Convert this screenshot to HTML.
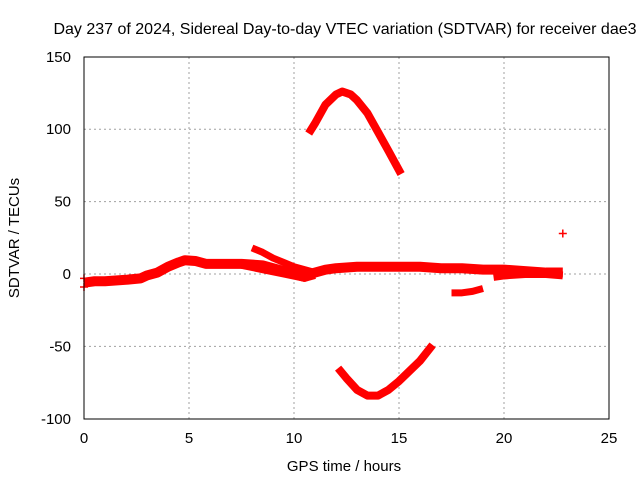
<!DOCTYPE html>
<html><head><meta charset="utf-8"><style>
body{margin:0;background:#fff;}
svg{display:block;font-family:"Liberation Sans",sans-serif;}
</style></head><body>
<svg id="chart" width="640" height="480">
<text x="345" y="34" font-size="16" text-anchor="middle">Day 237 of 2024, Sidereal Day-to-day VTEC variation (SDTVAR) for receiver dae3</text>
<text x="344" y="471" font-size="15" text-anchor="middle">GPS time / hours</text>
<text transform="translate(19,238) rotate(-90)" font-size="15" text-anchor="middle">SDTVAR / TECUs</text>
<g id="grid"></g><g id="ticks"></g><g id="marks"></g>
<rect x="84" y="57" width="525" height="362" fill="none" stroke="#000"/>
</svg>
<script>
const xTicks=[0,5,10,15,20,25];
const yTicks=[-100,-50,0,50,100,150];
const mainTrack=[[0,-6],[0.5,-5],[1,-5],[2,-4],[2.7,-3],[3,-1],[3.5,1],[4,5],[4.5,8],[4.8,9.5],[5.3,9],[5.8,7],[6.5,7],[7.5,7],[8.5,6],[9,4],[9.5,2],[10,0],[10.5,-2],[11,1],[11.5,3],[12,4],[13,5],[14,5],[15,5],[16,5],[17,4],[18,4],[19,3],[20,3],[21,2],[22,1],[22.8,1]];
const lowerTrack=[[7.5,6],[8.5,3],[9.5,0],[10.5,-3],[11,-1]];
const descTrack=[[8,18],[8.5,15],[9,11],[9.5,8],[10,5],[10.5,3],[11,1]];
const dipTrack=[[17.5,-13],[18,-13],[18.5,-12],[19,-10]];
const lateTrack=[[19.5,-2],[20,-1],[21,0],[22,0],[22.8,-1]];
const topArc=[[10.7,97],[11,104],[11.5,117],[12,124],[12.3,126],[12.7,124],[13,120],[13.5,111],[14,98],[14.5,85],[15.1,69]];
const bottomArc=[[12.1,-65],[12.5,-72],[13,-80],[13.5,-84],[14,-84],[14.5,-80],[15,-74],[15.5,-67],[16,-60],[16.6,-49]];
const outliers=[[22.8,28],[0,-9],[0,-3]];
const X=v=>84+v*21, Y=v=>274-v*1.448;
const NS='http://www.w3.org/2000/svg';
function mk(t,a,p){const e=document.createElementNS(NS,t);for(const k in a)e.setAttribute(k,a[k]);p.appendChild(e);return e;}
const grid=document.getElementById('grid'),ticks=document.getElementById('ticks'),marks=document.getElementById('marks');
xTicks.forEach(v=>{
 if(v>0&&v<25){const g=mk('line',{x1:X(v),x2:X(v),y1:57,y2:419,stroke:'#a0a0a0','stroke-dasharray':'2,3'},grid);
 
 }
 const t=mk('text',{x:X(v),y:443,'font-size':15,'text-anchor':'middle'},ticks);t.textContent=v;
 
 
});
yTicks.forEach(v=>{
 if(v>-100&&v<150){const g=mk('line',{x1:84,x2:609,y1:Y(v),y2:Y(v),stroke:'#a0a0a0','stroke-dasharray':'2,3'},grid);
 
 }
 const t=mk('text',{x:71,y:Y(v)+5,'font-size':15,'text-anchor':'end'},ticks);t.textContent=v;
 
 
});
function track(arr,w,name){
 const p=mk('polyline',{points:arr.map(d=>X(d[0])+','+Y(d[1])).join(' '),fill:'none',stroke:'#f00','stroke-width':w,'stroke-linejoin':'round'},marks);
 
 
}
track(mainTrack,10,'main-track');
track(lowerTrack,7,'lower-track');
track(descTrack,7,'descending-track');
track(dipTrack,7,'dip-track');
track(lateTrack,8,'late-track');
track(topArc,8,'top-arc');
track(bottomArc,8,'bottom-arc');
outliers.forEach(d=>{
 const p=mk('path',{d:`M${X(d[0])-4},${Y(d[1])}h8M${X(d[0])},${Y(d[1])-4}v8`,stroke:'#f00','stroke-width':1.5},marks);
 
 
});
</script>
</body></html>
